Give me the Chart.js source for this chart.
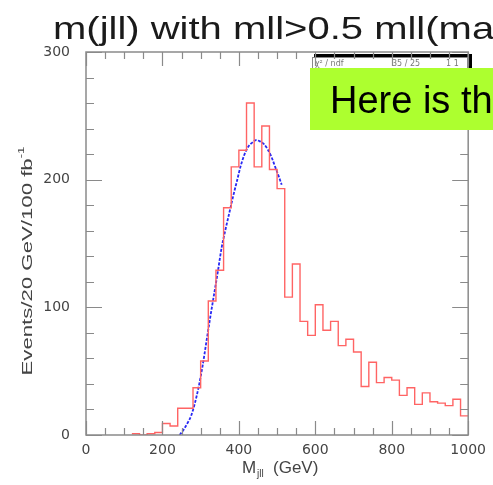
<!DOCTYPE html>
<html>
<head>
<meta charset="utf-8">
<script src="https://cdn.jsdelivr.net/npm/chart.js@4.4.1/dist/chart.umd.min.js"></script>
<style>
  html, body { margin: 0; padding: 0; background: #fff; }
  #wrap { width: 493px; height: 485px; position: relative; overflow: hidden; }
</style>
</head>
<body>
<div id="wrap"><canvas id="massChart" width="493" height="485"></canvas></div>
<script>
/* ===== data ===== */
const binEdges = [120, 140, 160, 180, 200, 220, 240, 260, 280, 300,
                  320, 340, 360, 380, 400, 420, 440, 460, 480, 500,
                  520, 540, 560, 580, 600, 620, 640, 660, 680, 700,
                  720, 740, 760, 780, 800, 820, 840, 860, 880, 900,
                  920, 940, 960, 980, 1000];
const counts   = [1, 0, 1, 2, 9, 7, 21, 21, 37, 58,
                  105, 129, 178, 210, 223, 260, 210, 242, 208, 193,
                  108, 134, 89, 78, 102, 82, 89, 70, 75, 65,
                  38, 57, 41, 45, 43, 31, 37, 24, 33, 26,
                  25, 23, 28, 15];

// fitted curve (blue), read point by point
const fitMass   = [245, 255, 265, 275, 285, 295, 305, 315, 325, 335,
                   345, 355, 365, 375, 385, 395, 405, 415, 425, 435,
                   445, 455, 465, 475, 485, 495, 505, 512];
const fitValues = [0, 4, 9, 15, 25, 38, 54, 73, 92, 110,
                   128, 147, 161, 174, 187, 199, 211, 220, 226, 229,
                   231, 230, 228, 224, 218, 210, 202, 196];

const xTickValues = [0, 200, 400, 600, 800, 1000];
const yTickValues = [0, 100, 200, 300];

const titleText  = 'm(jll) with mll>0.5 mll(max)';
const yTitleText = 'Events/20 GeV/100 fb';
const noteText   = 'Here is the';

/* ===== helpers ===== */
const histPoints = counts.map((c, i) => ({ x: binEdges[i], y: c }));
histPoints.push({ x: binEdges[binEdges.length - 1], y: counts[counts.length - 1] });
const fitPoints = fitMass.map((m, i) => ({ x: m, y: fitValues[i] }));

const frameColor = '#8a8a8a';
const labelFont  = { family: 'DejaVu Sans', size: 14 };

// ROOT-like frame with inward ticks, titles, stats box and the slide note
const decorations = {
  id: 'decorations',
  afterDraw(chart) {
    const { ctx, chartArea: a, scales: { x, y } } = chart;
    ctx.save();

    // stats box peeking out behind the note (sits under the frame ticks)
    ctx.fillStyle = '#000';
    ctx.fillRect(314, 54, 158, 3);
    ctx.fillRect(468, 54, 4, 15);
    ctx.fillStyle = '#fff';
    ctx.fillRect(312, 57, 156, 14);
    ctx.strokeStyle = '#888';
    ctx.lineWidth = 1;
    ctx.strokeRect(312.5, 57.5, 155, 14);
    ctx.fillStyle = '#777';
    ctx.font = '8px "DejaVu Sans"';
    ctx.fillText('\u03c7\u00b2 / ndf', 315, 66);
    ctx.fillText('35 / 25', 392, 66);
    ctx.fillText('1 1', 446, 66);

    // frame
    ctx.strokeStyle = frameColor;
    ctx.lineWidth = 1.5;
    ctx.strokeRect(a.left, a.top, a.right - a.left, a.bottom - a.top);

    // x ticks (bottom and top)
    ctx.lineWidth = 1.2;
    ctx.beginPath();
    for (let v = 0; v <= 1000; v += 50) {
      const px = Math.round(x.getPixelForValue(v)) + 0.5;
      const len = v % 200 === 0 ? 14 : 7;
      ctx.moveTo(px, a.bottom); ctx.lineTo(px, a.bottom - len);
      ctx.moveTo(px, a.top);    ctx.lineTo(px, a.top + len);
    }
    // y ticks (left and right)
    for (let v = 0; v <= 300; v += 20) {
      const py = Math.round(y.getPixelForValue(v)) + 0.5;
      const len = v % 100 === 0 ? 16 : 8;
      ctx.moveTo(a.left, py);  ctx.lineTo(a.left + len, py);
      ctx.moveTo(a.right, py); ctx.lineTo(a.right - len, py);
    }
    ctx.stroke();

    // main title (slide text, a bit stretched)
    ctx.fillStyle = '#1a1a1a';
    ctx.font = '32px "Liberation Sans"';
    ctx.textBaseline = 'alphabetic';
    ctx.textAlign = 'left';
    ctx.save();
    ctx.translate(53, 39);
    ctx.scale(1.25, 1);
    ctx.fillText(titleText, 0, 0);
    ctx.restore();

    // x axis title: M_jll (GeV)
    ctx.fillStyle = '#444';
    ctx.font = '17px "Liberation Sans"';
    ctx.fillText('M', 242, 473);
    ctx.font = '10px "Liberation Sans"';
    ctx.fillText('jll', 257, 477);
    ctx.font = '17px "Liberation Sans"';
    ctx.fillText('(GeV)', 273, 473);

    // y axis title, rotated
    ctx.save();
    ctx.translate(32, 261);
    ctx.rotate(-Math.PI / 2);
    ctx.font = '15px "Liberation Sans"';
    const mainW = ctx.measureText(yTitleText).width;
    ctx.font = '9px "Liberation Sans"';
    const supW = ctx.measureText('-1').width;
    const target = 229;
    const sx = target / (mainW + supW);
    ctx.scale(sx, 1);
    const x0 = -(mainW + supW) / 2;
    ctx.font = '15px "Liberation Sans"';
    ctx.fillText(yTitleText, x0, 0);
    ctx.font = '9px "Liberation Sans"';
    ctx.fillText('-1', x0 + mainW, -8);
    ctx.restore();

    // slide note
    ctx.fillStyle = '#adff2f';
    ctx.fillRect(310, 68, 200, 62);
    ctx.fillStyle = '#000';
    ctx.font = '38px "Liberation Sans"';
    ctx.fillText(noteText, 330, 113);

    ctx.restore();
  }
};

const canvas = document.getElementById('massChart');
new Chart(canvas, {
  type: 'line',
  data: {
    datasets: [
      {
        label: 'signal',
        data: histPoints,
        stepped: 'before',
        borderColor: 'rgb(255, 100, 100)',
        borderWidth: 1.4,
        pointRadius: 0,
        fill: false
      },
      {
        label: 'fit',
        data: fitPoints,
        borderColor: 'rgb(40, 40, 245)',
        borderWidth: 1.8,
        borderDash: [3, 1.5],
        cubicInterpolationMode: 'monotone',
        pointRadius: 0,
        fill: false
      }
    ]
  },
  options: {
    responsive: false,
    animation: false,
    layout: { padding: { top: 52, right: 21, left: 0, bottom: 0 } },
    scales: {
      x: {
        type: 'linear', min: 0, max: 1000,
        afterBuildTicks: s => { s.ticks = xTickValues.map(v => ({ value: v })); },
        afterFit: s => { s.height = 50; },
        ticks: { font: labelFont, color: '#444', padding: 7, maxRotation: 0, callback: v => String(v) },
        grid: { display: false, drawTicks: false },
        border: { display: false }
      },
      y: {
        type: 'linear', min: 0, max: 300,
        afterBuildTicks: s => { s.ticks = yTickValues.map(v => ({ value: v })); },
        afterFit: s => { s.width = 86; },
        ticks: { font: labelFont, color: '#444', padding: 16, callback: v => String(v) },
        grid: { display: false, drawTicks: false },
        border: { display: false }
      }
    },
    plugins: { legend: { display: false }, tooltip: { enabled: false } }
  },
  plugins: [decorations]
});
</script>
</body>
</html>
